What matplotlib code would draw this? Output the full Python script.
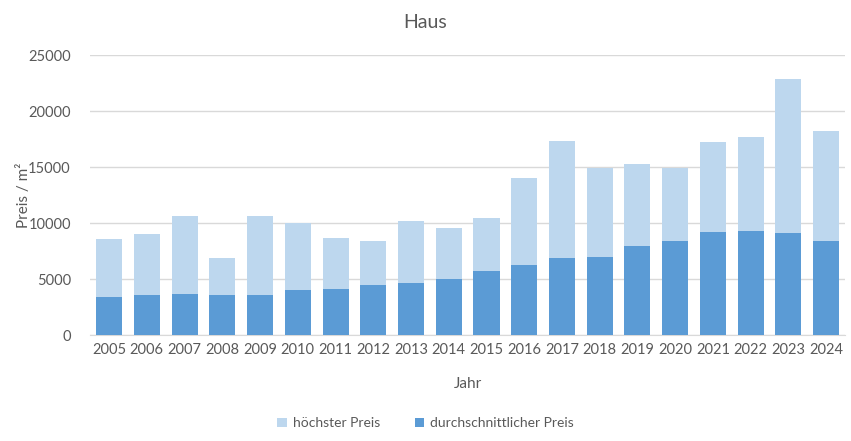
import matplotlib.pyplot as plt
import numpy as np

plt.rcParams['font.family'] = ['Lato', 'DejaVu Sans']

years = [str(y) for y in range(2005, 2025)]
hoechster = [8600, 9000, 10600, 6850, 10600, 10000, 8700, 8450, 10150, 9600,
             10500, 14050, 17350, 14950, 15300, 14950, 17250, 17700, 22850, 18250]
durchschnitt = [3450, 3550, 3700, 3600, 3550, 4000, 4150, 4450, 4700, 5000,
                5750, 6300, 6850, 7000, 8000, 8450, 9250, 9300, 9150, 8450]

light = '#BDD7EE'
dark = '#5B9BD5'
grey = '#595959'

fig = plt.figure(figsize=(8.51, 4.41), dpi=100)
ax = fig.add_axes([0.106, 0.240, 0.887, 0.635])

x = np.arange(len(years))
ax.bar(x, hoechster, width=0.69, color=light, label='höchster Preis', zorder=2)
ax.bar(x, durchschnitt, width=0.69, color=dark, label='durchschnittlicher Preis', zorder=3)

ax.set_xlim(-0.5, len(years) - 0.5)
ax.set_ylim(0, 25000)
ax.set_yticks(range(0, 25001, 5000))
ax.set_xticks(x)
ax.set_xticklabels(years)
ax.grid(axis='y', color='#D9D9D9', linewidth=1, zorder=0)
for s in ['top', 'right', 'left']:
    ax.spines[s].set_visible(False)
ax.spines['bottom'].set_color('#D9D9D9')
ax.tick_params(length=0, colors=grey, labelsize=10.5)
ax.tick_params(axis='y', pad=14)
ax.tick_params(axis='x', pad=6)

ax.set_xlabel('Jahr', color=grey, fontsize=11, labelpad=14)
ax.set_ylabel('Preis / m²', color=grey, fontsize=11, labelpad=-2)
fig.text(0.5, 0.95, 'Haus', ha='center', va='center', color=grey, fontsize=14)

fig.legend(loc='center', bbox_to_anchor=(0.5, 0.04), ncol=2, frameon=False,
           fontsize=10, labelcolor=grey, handlelength=0.7, handleheight=0.7,
           columnspacing=2.5, handletextpad=0.4)

fig.savefig('out.png', dpi=100)
